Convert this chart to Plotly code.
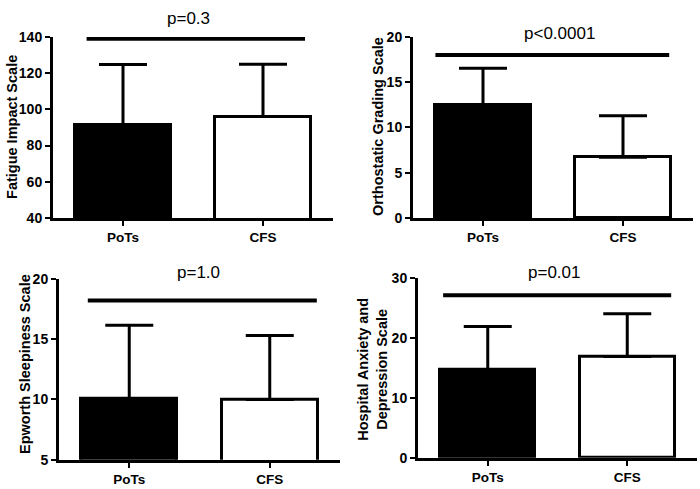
import plotly.graph_objects as go

W, H = 700, 489

categories = ["PoTs", "CFS"]
bar_colors = ["black", "white"]

fatigue_mean = [91.5, 96.0]
fatigue_sd = [33.3, 29.0]
ogs_mean = [12.5, 6.7]
ogs_sd = [4.05, 4.6]
ess_mean = [10.05, 10.0]
ess_sd = [6.1, 5.3]
hads_mean = [14.7, 16.9]
hads_sd = [7.2, 7.1]

p_texts = ["p=0.3", "p<0.0001", "p=1.0", "p=0.01"]
sig_levels = [139.0, 18.0, 18.2, 27.1]
titles = ["Fatigue Impact Scale", "Orthostatic Grading Scale",
          "Epworth Sleepiness Scale", "Hospital Anxiety and<br>Depression Scale"]
y_ranges = [[40, 140], [0, 20], [5, 20], [0, 30]]
y_dticks = [20, 5, 5, 10]

means = [fatigue_mean, ogs_mean, ess_mean, hads_mean]
sds = [fatigue_sd, ogs_sd, ess_sd, hads_sd]

# pixel layout of each panel: (x0, x1, y_top, y_bottom)
panels = [(53, 333, 30, 217), (413, 693, 30, 217), (59, 340, 280, 467), (418, 697, 279, 465)]
sig_x = [(-0.26, 1.30), (-0.34, 1.33), (-0.295, 1.335), (-0.32, 1.315)]
p_pos = [(188, 11), (559, 26), (198, 273), (554, 273)]
title_pos = [(12, 123), (378, 123), (25, 368), (373, 373)]

FONT = "Arial, Liberation Sans, sans-serif"

def px(x):
    return x / W

def py(y):
    return 1 - y / H

fig = go.Figure()
layout = dict(width=W, height=H, margin=dict(l=0, r=0, t=0, b=0),
              paper_bgcolor="white", plot_bgcolor="white", showlegend=False,
              bargap=0, font=dict(family=FONT, color="black"))
annotations = []
shapes = []
xnum = [0, 1]

for i in range(4):
    k = "" if i == 0 else str(i + 1)
    x0, x1, yt, yb = panels[i]
    fig.add_trace(go.Bar(
        x=xnum, y=means[i], width=0.68,
        marker=dict(color=bar_colors, line=dict(color="black", width=3)),
        error_y=dict(type="data", symmetric=False, array=sds[i],
                     arrayminus=[0, 0], color="black", thickness=3, width=24),
        xaxis="x" + k, yaxis="y" + k, hoverinfo="skip",
    ))
    layout["xaxis" + k] = dict(
        domain=[px(x0), px(x1)], range=[-0.5, 1.5], anchor="y" + k,
        tickvals=xnum, ticktext=categories, ticks="outside", ticklen=5,
        tickwidth=2, tickcolor="black", showline=True, linecolor="black",
        linewidth=3, showgrid=False, zeroline=False, fixedrange=True,
        tickfont=dict(family=FONT, size=13.5, color="black", weight="bold"))
    layout["yaxis" + k] = dict(
        domain=[py(yb), py(yt)], range=y_ranges[i], anchor="x" + k,
        dtick=y_dticks[i], tick0=0, ticks="outside", ticklen=5, tickwidth=2,
        tickcolor="black", showline=True, linecolor="black", linewidth=3,
        showgrid=False, zeroline=False, fixedrange=True,
        tickfont=dict(family=FONT, size=14, color="black", weight="bold"))
    shapes.append(dict(type="line", xref="x" + k, yref="y" + k,
                       x0=sig_x[i][0], x1=sig_x[i][1],
                       y0=sig_levels[i], y1=sig_levels[i],
                       line=dict(color="black", width=4)))
    annotations.append(dict(text=p_texts[i], xref="paper", yref="paper",
                            x=px(p_pos[i][0]), y=py(p_pos[i][1]),
                            xanchor="center", yanchor="middle", showarrow=False,
                            font=dict(family=FONT, size=17, color="black")))
    annotations.append(dict(text=titles[i], xref="paper", yref="paper",
                            x=px(title_pos[i][0]), y=py(title_pos[i][1]),
                            textangle=-90,
                            xanchor="center", yanchor="middle", showarrow=False,
                            font=dict(family=FONT, size=14.5, color="black",
                                      weight="bold")))

layout["annotations"] = annotations
layout["shapes"] = shapes
fig.update_layout(**layout)
fig.write_html("out.html", config={"displayModeBar": False},
               post_script="document.body.style.margin='0';document.body.style.overflow='hidden';")
